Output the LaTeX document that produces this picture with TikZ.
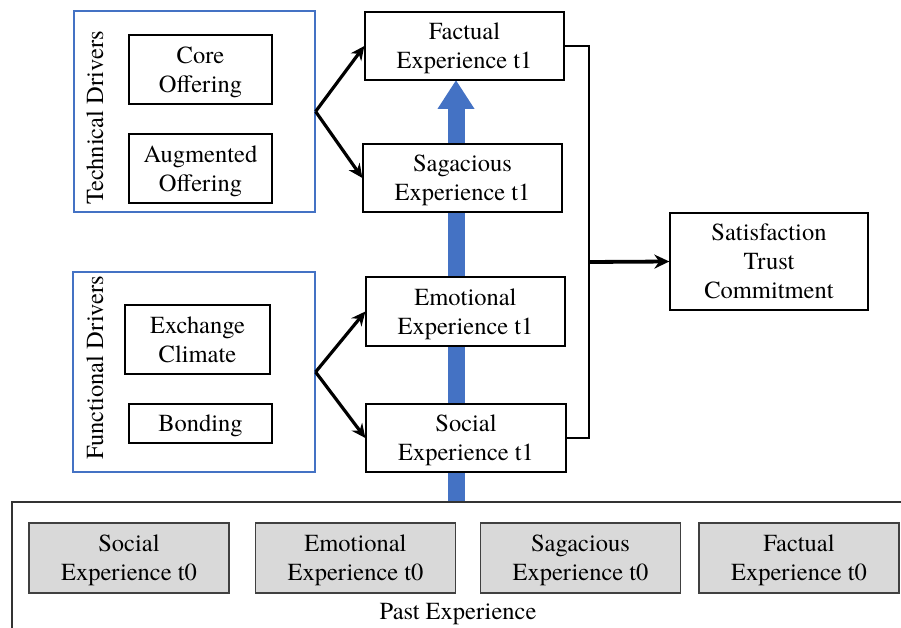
\documentclass[tikz,border=0pt]{standalone}
\usepackage{fontspec}
\setmainfont{texgyretermes}[Extension=.otf, UprightFont=*-regular, BoldFont=*-bold]
\usetikzlibrary{arrows.meta,backgrounds}

\definecolor{groupblue}{HTML}{4472C4}
\definecolor{pastgray}{HTML}{D9D9D9}

\begin{document}
\begin{tikzpicture}[x=1pt, y=-1pt,
    txt/.style={font=\fontsize{24.5}{29}\selectfont, align=center, inner sep=0pt},
    box/.style={txt, text depth=-2pt, draw=black, line width=1.3pt, fill=white},
    oldbox/.style={txt, text depth=-2pt, draw=black!75, line width=1.8pt, fill=pastgray,
      minimum width=200, minimum height=70},
    group/.style={draw=groupblue, line width=1.2pt, inner sep=0pt},
    fork/.style={line width=3.2pt, -{Stealth[length=14pt, width=13pt]}},
    link/.style={line width=2.8pt}]
      \useasboundingbox (0,0) rectangle (901,628);

      % Driver groups
      \node[group, minimum width=241, minimum height=201] (tech) at (194.5,111.5) {};
      \node[txt, rotate=90] (techlbl) at (95,118) {Technical Drivers};
      \node[box, minimum width=143, minimum height=69] (core) at (200.5,69.5) {Core\\Offering};
      \node[box, minimum width=143, minimum height=69] (aug) at (200.5,168.5) {Augmented\\Offering};

      \node[group, minimum width=242, minimum height=200] (func) at (194,372) {};
      \node[txt, rotate=90] (funclbl) at (95,368) {Functional Drivers};
      \node[box, minimum width=145, minimum height=69] (exch) at (197.5,339.5) {Exchange\\Climate};
      \node[box, minimum width=143, minimum height=39] (bond) at (200.5,423.5) {Bonding};

      % Experience t1
      \node[box, minimum width=199, minimum height=68] (fact1) at (464.5,46) {Factual\\Experience t1};
      \node[box, minimum width=199, minimum height=68] (sag1) at (462.5,178) {Sagacious\\Experience t1};
      \node[box, minimum width=199, minimum height=69] (emo1) at (465.5,311.5) {Emotional\\Experience t1};
      \node[box, minimum width=200, minimum height=68] (soc1) at (466,438) {Social\\Experience t1};

      % Outcomes
      \node[box, minimum width=198, minimum height=97] (sat) at (769,261.5) {Satisfaction\\Trust\\Commitment};

      % Past experience
      \node[draw=black!80, line width=1.5pt, minimum width=900, minimum height=150] (past) at (462,577) {};
      \node[oldbox] (soc0) at (129,558) {Social\\Experience t0};
      \node[oldbox] (emo0) at (355.5,558) {Emotional\\Experience t0};
      \node[oldbox] (sag0) at (580.5,558) {Sagacious\\Experience t0};
      \node[oldbox] (fact0) at (799,558) {Factual\\Experience t0};
      \node[txt, text depth=-2pt] (pastlbl) at (458,611) {Past Experience};

      % Blue arrow behind the t1 boxes
      \begin{pgfonlayer}{background}
        \draw[groupblue, line width=17pt, -{Triangle[length=29pt, width=35pt]}]
          (456,502) -- (456,80);
      \end{pgfonlayer}

      % Drivers to experiences
      \draw[fork] (tech.east) -- (fact1.west);
      \draw[fork] (tech.east) -- (sag1.west);
      \draw[fork] (func.east) -- (emo1.west);
      \draw[fork] (func.east) -- (soc1.west);

      % Experiences to outcomes
      \coordinate (join) at (589,262);
      \draw[link] (fact1.east) -| (join) |- (soc1.east);
      \draw[line width=3.8pt, -{Stealth[length=15pt, width=14pt]}] (join) -- (sat.west);
\end{tikzpicture}
\end{document}
